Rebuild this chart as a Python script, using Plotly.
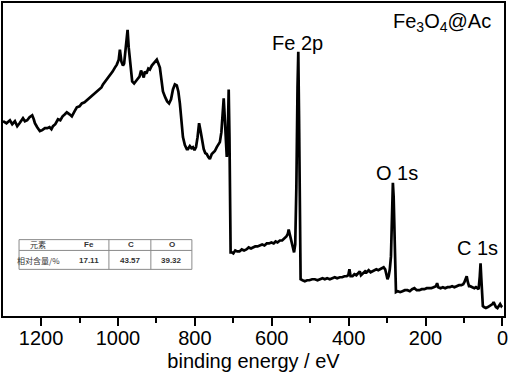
import plotly.graph_objects as go

# Binding energy (eV) and intensity (a.u.)
binding_energy = [
    1299, 1290, 1281, 1275, 1268, 1262, 1256, 1250, 1247, 1242, 1236, 1230, 1223, 1219, 1216,
    1210, 1203, 1197, 1190, 1184, 1178, 1173, 1169, 1163, 1156, 1150, 1144, 1138, 1133, 1126,
    1120, 1113, 1107, 1100, 1094, 1087, 1081, 1074, 1068, 1061, 1055, 1049, 1043, 1039, 1033,
    1027, 1021, 1014, 1008, 1003, 998, 995, 991, 987, 984, 979, 975, 972, 967, 963,
    958, 953, 948, 944, 940, 937, 933, 930, 926, 921, 917, 912, 907, 902, 899,
    895, 891, 887, 883, 877, 872, 867, 862, 857, 852, 847, 843, 839, 835, 831,
    826, 821, 818, 813, 809, 805, 801, 797, 793, 789, 785, 781, 777, 773, 769,
    765, 761, 756, 752, 748, 743, 739, 735, 731, 728, 725, 723, 720, 717, 715,
    713, 712, 710, 708, 707, 704, 700, 695, 690, 684, 678, 672, 666, 660, 654,
    649, 643, 637, 631, 625, 619, 613, 607, 601, 595, 590, 585, 579, 573, 567,
    562, 558, 556, 553, 549, 545, 542, 539, 536, 533, 531, 529, 527, 525, 520,
    514, 508, 502, 495, 488, 481, 475, 468, 462, 456, 449, 442, 436, 430, 423,
    417, 411, 405, 401, 398, 395, 390, 385, 380, 374, 371, 368, 362, 357, 353,
    348, 343, 338, 333, 328, 323, 318, 313, 309, 305, 302, 299, 296, 293, 290,
    287, 285, 283, 281, 279, 277, 272, 266, 260, 254, 247, 241, 235, 229, 223,
    216, 210, 203, 197, 191, 185, 179, 173, 170, 167, 161, 155, 149, 143, 137,
    131, 125, 119, 113, 107, 102, 99, 95, 93, 90, 87, 84, 80, 77, 73,
    69, 65, 62, 59, 57, 55, 53, 51, 48, 43, 38, 33, 29, 26, 23,
    20, 17, 13, 9, 6, 3, 1,
]
intensity = [
    196, 194, 197, 193, 196, 191, 194, 198, 199, 196, 197, 200, 202, 198, 194,
    190, 186, 187, 189, 189, 190, 188, 191, 193, 198, 197, 201, 203, 205, 203,
    201, 206, 210, 211, 214, 215, 217, 220, 222, 224, 226, 228, 230, 233, 236,
    239, 243, 246, 250, 253, 258, 268, 256, 252, 254, 275, 288, 270, 248, 236,
    234, 236, 239, 241, 247, 244, 240, 246, 244, 249, 248, 252, 254, 257, 258,
    254, 250, 238, 226, 220, 216, 214, 218, 228, 233, 232, 226, 214, 195, 180,
    172, 168, 168, 171, 169, 170, 167, 170, 180, 194, 186, 175, 168, 164, 163,
    160, 158, 163, 165, 166, 170, 172, 175, 185, 205, 219, 205, 175, 160, 170,
    200, 228, 180, 120, 64, 64, 63, 66, 65, 65, 67, 66, 67, 69, 68,
    69, 70, 70, 71, 72, 71, 73, 73, 74, 73, 75, 74, 76, 76, 78,
    80, 83, 87, 82, 76, 68, 64, 72, 130, 230, 266, 200, 60, 37, 36,
    35, 36, 36, 37, 37, 36, 37, 38, 37, 38, 37, 38, 39, 38, 39,
    39, 40, 40, 41, 47, 40, 40, 42, 41, 43, 45, 41, 43, 45, 44,
    46, 44, 45, 46, 47, 46, 47, 48, 49, 47, 42, 37, 40, 47, 60,
    100, 134, 120, 80, 30, 24, 25, 24, 25, 26, 26, 25, 27, 28, 26,
    26, 27, 27, 28, 28, 28, 29, 30, 33, 29, 28, 29, 28, 29, 29,
    30, 29, 30, 31, 31, 32, 34, 39, 40, 34, 30, 30, 29, 29, 28,
    29, 28, 27, 40, 53, 38, 16, 10, 9, 8, 9, 10, 11, 12, 14,
    12, 9, 8, 11, 12, 10, 11,
]

# Peak labels
peak_labels = ["Fe 2p", "O 1s", "C 1s"]
peak_label_energy = [532, 275, 65]
peak_label_intensity = [275, 144, 68]
sample_name = "Fe<sub>3</sub>O<sub>4</sub>@Ac"

# Inset table: relative element content
table_header = ["元素", "Fe", "C", "O"]
table_row = ["相对含量/%", "17.11", "43.57", "39.32"]

x_ticks = [1200, 1000, 800, 600, 400, 200, 0]

fig = go.Figure()
fig.add_trace(go.Scatter(
    x=binding_energy, y=intensity, mode="lines",
    line=dict(color="black", width=2.7), showlegend=False, hoverinfo="skip",
))

font_main = "Liberation Sans, Arial, sans-serif"

for lab, ex, iy in zip(peak_labels, peak_label_energy, peak_label_intensity):
    fig.add_annotation(x=ex, y=iy, xref="x", yref="y", text=lab, showarrow=False,
                       xanchor="center", yanchor="middle",
                       font=dict(family=font_main, size=20, color="black"))

fig.add_annotation(x=0.877, y=0.937, xref="paper", yref="paper", text=sample_name,
                   showarrow=False, xanchor="center", yanchor="middle",
                   font=dict(family=font_main, size=20, color="black"))

# Inset table (paper coordinates)
tx0, tx1 = 0.032, 0.377
ty_top, ty_mid, ty_bot = 0.244, 0.2095, 0.149
col_div = [0.2114, 0.2951]
gray = "#8a8a8a"
fig.add_shape(type="rect", xref="paper", yref="paper", x0=tx0, x1=tx1, y0=ty_bot, y1=ty_top,
              line=dict(color=gray, width=1), fillcolor="white", layer="above")
fig.add_shape(type="line", xref="paper", yref="paper", x0=tx0, x1=tx1, y0=ty_mid, y1=ty_mid,
              line=dict(color=gray, width=1))
for cx in col_div:
    fig.add_shape(type="line", xref="paper", yref="paper", x0=cx, x1=cx, y0=ty_bot, y1=ty_top,
                  line=dict(color=gray, width=1))
col_centers = [0.07, 0.1715, 0.2552, 0.337]
for i, (h, r) in enumerate(zip(table_header, table_row)):
    fam = "Noto Sans CJK SC" if i == 0 else font_main
    fig.add_annotation(x=col_centers[i], y=0.2286, xref="paper", yref="paper",
                       text=h if i == 0 else "<b>%s</b>" % h,
                       showarrow=False, xanchor="center", yanchor="middle",
                       font=dict(family=fam, size=8, color="#333"))
    fig.add_annotation(x=col_centers[i], y=0.1778, xref="paper", yref="paper",
                       text=r if i == 0 else "<b>%s</b>" % r,
                       showarrow=False, xanchor="center", yanchor="middle",
                       font=dict(family=fam, size=8, color="#333"))

fig.update_layout(
    width=511, height=379,
    margin=dict(l=3, r=7, t=1, b=63),
    paper_bgcolor="white", plot_bgcolor="white",
    font=dict(family=font_main, color="black"),
    xaxis=dict(
        range=[1299, -4], tickvals=x_ticks, ticktext=[str(v) for v in x_ticks],
        ticks="outside", ticklen=8, tickwidth=2, tickcolor="black",
        minor=dict(ticks="outside", ticklen=5, tickwidth=2, tickcolor="black", dtick=100, tick0=0),
        showline=True, linecolor="black", linewidth=2, mirror=True,
        showgrid=False, zeroline=False,
        ticklabelstandoff=-5,
        tickfont=dict(family=font_main, size=20, color="black"),
        title=dict(text="binding energy / eV", font=dict(family=font_main, size=20, color="black"),
                   standoff=6),
    ),
    yaxis=dict(
        range=[0, 315], showticklabels=False, ticks="",
        showline=True, linecolor="black", linewidth=2, mirror=True,
        showgrid=False, zeroline=False,
    ),
)

fig.write_html("out.html", config={"displayModeBar": False},
               post_script="document.body.style.margin='0';")
